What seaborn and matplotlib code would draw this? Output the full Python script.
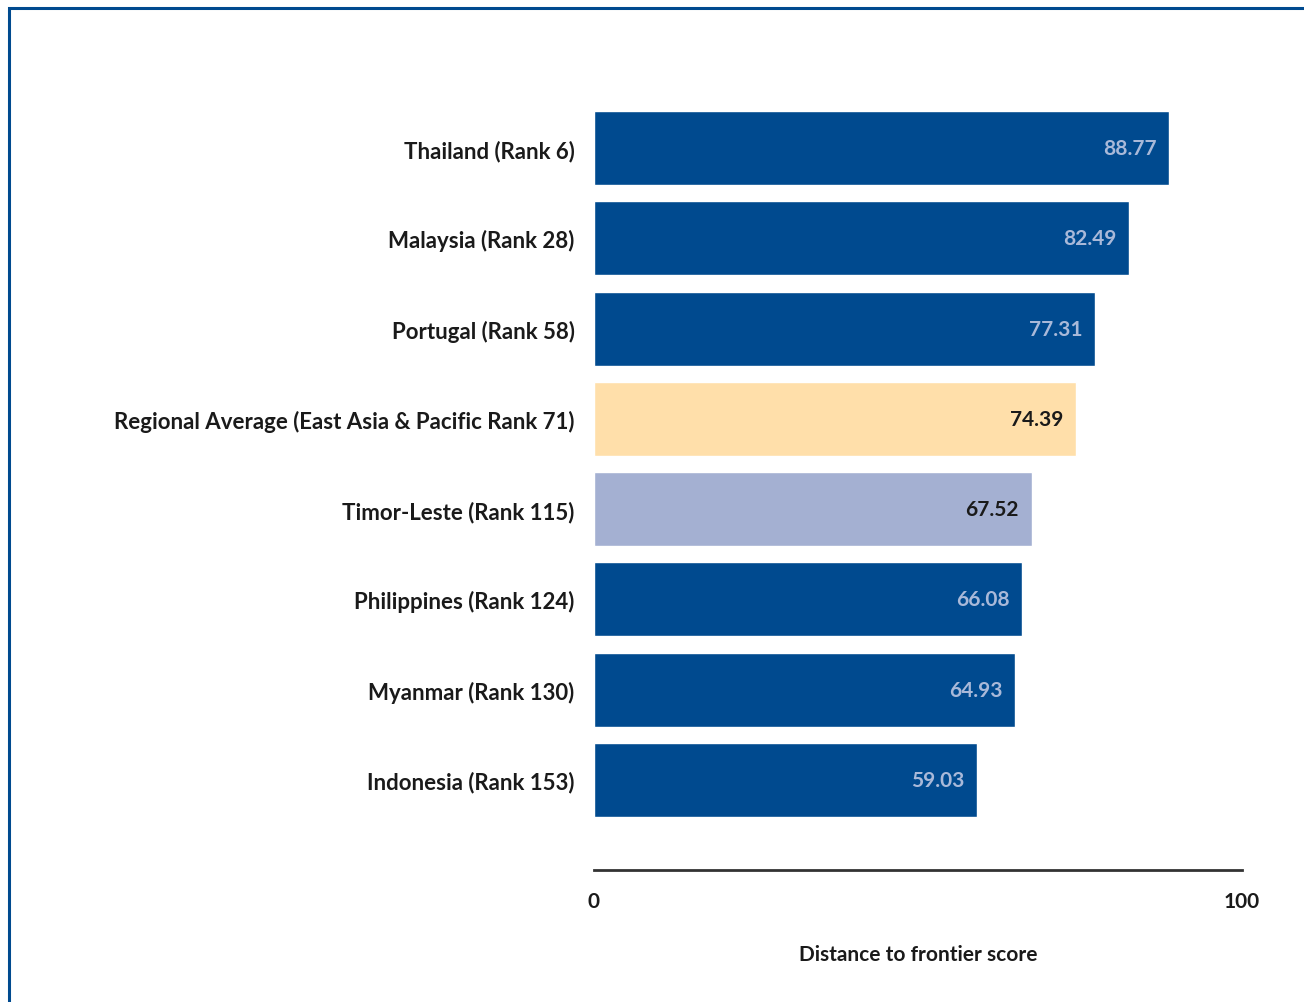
import matplotlib
matplotlib.use("Agg")
import matplotlib.pyplot as plt
import seaborn as sns
import pandas as pd
from matplotlib.patches import Rectangle

countries = ['Thailand (Rank 6)', 'Malaysia (Rank 28)', 'Portugal (Rank 58)',
             'Regional Average (East Asia & Pacific Rank 71)', 'Timor-Leste (Rank 115)',
             'Philippines (Rank 124)', 'Myanmar (Rank 130)', 'Indonesia (Rank 153)']
scores = [88.77, 82.49, 77.31, 74.39, 67.52, 66.08, 64.93, 59.03]
bar_colors = ['#004a8f', '#004a8f', '#004a8f', '#ffdfaa', '#a4b0d2',
              '#004a8f', '#004a8f', '#004a8f']
label_colors = ['#a9b9d9', '#a9b9d9', '#a9b9d9', '#1a1a1a', '#1a1a1a',
                '#a9b9d9', '#a9b9d9', '#a9b9d9']

df = pd.DataFrame({'country': countries, 'score': scores})

sns.set_theme(style="white")
plt.rcParams['font.family'] = ['Lato', 'DejaVu Sans']
plt.rcParams['font.weight'] = 'bold'

fig = plt.figure(figsize=(13.04, 10.03), dpi=100)
ax = fig.add_axes([594 / 1304, 1 - 871 / 1003, 648 / 1304, (871 - 104) / 1003])

sns.barplot(data=df, x='score', y='country', hue='country', order=countries,
            hue_order=countries, palette=bar_colors, legend=False, width=0.82,
            saturation=1, ax=ax)

for i, (v, c) in enumerate(zip(scores, label_colors)):
    ax.annotate(f'{v:.2f}', xy=(v, i), xytext=(-9, 0), textcoords='offset points',
                ha='right', va='center', color=c, fontsize=15, fontweight='bold')

ax.set_xlim(0, 100)
ax.set_ylim(8.0, -0.5)
ax.set_xticks([0, 100])
ax.set_xticklabels(['0', '100'], fontsize=15, fontweight='bold', color='#1a1a1a')
ax.tick_params(axis='x', length=0, pad=15)
ax.tick_params(axis='y', length=0, pad=14, labelsize=16, labelcolor='#1a1a1a')
for lbl in ax.get_yticklabels():
    lbl.set_fontweight('bold')
ax.set_ylabel('')
ax.set_xlabel('Distance to frontier score', fontsize=15, fontweight='bold',
              color='#1a1a1a', labelpad=24)

for s in ['top', 'right', 'left']:
    ax.spines[s].set_visible(False)
ax.spines['bottom'].set_color('#333333')
ax.spines['bottom'].set_linewidth(2)

# page frame (only top and left edges visible)
fig.patches.append(Rectangle((8.5 / 1304, -0.1), 1.2, 1 - 8.5 / 1003 + 0.1,
                             transform=fig.transFigure, fill=False,
                             edgecolor='#004a8f', linewidth=2.2))

fig.savefig('out.png', dpi=100)
